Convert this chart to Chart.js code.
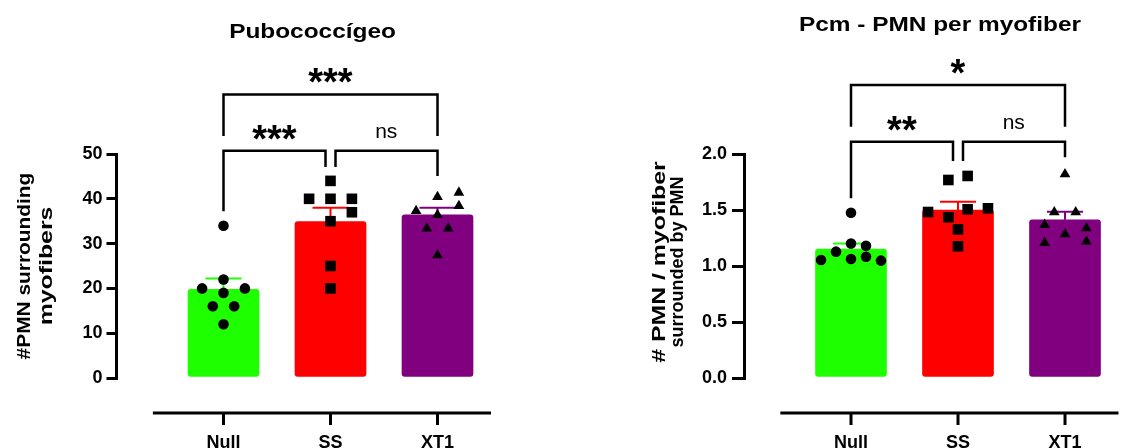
<!DOCTYPE html>
<html><head><meta charset="utf-8">
<script src="https://cdn.jsdelivr.net/npm/chart.js@4.4.0/dist/chart.umd.min.js"></script>
<style>
html,body{margin:0;padding:0;background:#fff;width:1126px;height:448px;overflow:hidden;}
canvas{position:absolute;left:0;top:0;}
</style></head><body>
<canvas id="c1" width="1126" height="448"></canvas>
<canvas id="c2" width="1126" height="448"></canvas>
<script>
// ---------- data ----------
const categories = ['Null', 'SS', 'XT1'];

// Left panel: Pubococcígeo, #PMN surrounding myofibers
const pmnMean = [19.8, 34.9, 36.4];
const pmnSem = [2.4, 3.1, 1.6];
const pmnNull = [34, 22, 20, 20, 19, 16, 16, 12];
const pmnSS = [44, 40, 40, 40, 37, 35, 25, 20];
const pmnXT1 = [40.4, 41.4, 37.3, 38.4, 36.4, 33.4, 33.4, 27.4];
const pmnNullJitter = [0, 0, -0.2, 0.2, 0, -0.1, 0.1, 0];
const pmnSSJitter = [0, -0.2, 0, 0.2, 0.2, 0, 0, 0];
const pmnXT1Jitter = [0, 0.2, -0.2, 0.2, 0, -0.1, 0.1, 0];
const pmnTicks = [0, 10, 20, 30, 40, 50];

// Right panel: Pcm - PMN per myofiber
const ratioMean = [1.152, 1.50, 1.413];
const ratioSem = [0.05, 0.074, 0.072];
const ratioNull = [1.476, 1.20, 1.18, 1.128, 1.054, 1.063, 1.083, 1.048];
const ratioSS = [1.768, 1.804, 1.482, 1.506, 1.515, 1.435, 1.327, 1.176];
const ratioXT1 = [1.82, 1.481, 1.481, 1.368, 1.338, 1.284, 1.207, 1.219];
const ratioNullJitter = [0, 0, 0.14, -0.14, -0.28, 0, 0.14, 0.28];
const ratioSSJitter = [-0.09, 0.09, -0.28, 0.09, 0.28, -0.09, 0, 0];
const ratioXT1Jitter = [0, -0.1, 0.1, -0.19, 0.2, 0, -0.19, 0.2];
const ratioTicks = [0, 0.5, 1.0, 1.5, 2.0];

const barColors = ['#1EFF00', '#FF0000', '#800080'];
const F = "'Liberation Sans', Arial, Helvetica, sans-serif";

// ---------- helpers ----------
function inkCenteredText(ctx, text, cx, cy, font, sx) {
  ctx.save();
  ctx.font = font;
  const m = ctx.measureText(text);
  ctx.translate(cx, cy);
  ctx.scale(sx || 1, 1);
  ctx.textAlign = 'left';
  ctx.textBaseline = 'alphabetic';
  const x = -(m.actualBoundingBoxRight - m.actualBoundingBoxLeft) / 2;
  const y = (m.actualBoundingBoxAscent - m.actualBoundingBoxDescent) / 2;
  ctx.fillText(text, x, y);
  ctx.restore();
}
function baselineText(ctx, text, cx, by, font, sx, rot) {
  ctx.save();
  ctx.font = font;
  ctx.translate(cx, by);
  if (rot) ctx.rotate(rot);
  ctx.scale(sx || 1, 1);
  ctx.textAlign = 'center';
  ctx.textBaseline = 'alphabetic';
  ctx.fillText(text, 0, 0);
  ctx.restore();
}

const decorPlugin = {
  id: 'decor',
  afterDatasetDraw(chart, args, opts) {
    if (args.index !== 0) return;
    const ctx = chart.ctx, xs = chart.scales.x, ys = chart.scales.y;
    ctx.save();
    ctx.lineWidth = 2;
    opts.mean.forEach((m, i) => {
      const x = xs.getPixelForValue(i + 1);
      const y0 = ys.getPixelForValue(m);
      const y1 = ys.getPixelForValue(m + opts.sem[i]);
      ctx.strokeStyle = barColors[i];
      ctx.beginPath();
      ctx.moveTo(x, y0); ctx.lineTo(x, y1);
      ctx.moveTo(x - 18, y1); ctx.lineTo(x + 18, y1);
      ctx.stroke();
    });
    ctx.restore();
  },
  afterDraw(chart, args, opts) {
    const ctx = chart.ctx, xs = chart.scales.x, ys = chart.scales.y, ca = chart.chartArea;
    ctx.save();
    ctx.fillStyle = '#000';
    ctx.strokeStyle = '#000';
    // offset x axis
    const axY = ca.bottom + 35;
    ctx.lineWidth = 3;
    ctx.beginPath();
    ctx.moveTo(xs.getPixelForValue(0.34), axY);
    ctx.lineTo(xs.getPixelForValue(3.5), axY);
    categories.forEach((c, i) => {
      const x = xs.getPixelForValue(i + 1);
      ctx.moveTo(x, axY); ctx.lineTo(x, axY + 12);
    });
    ctx.stroke();
    // brackets
    ctx.lineWidth = 2.5;
    ctx.lineCap = 'butt';
    opts.brackets.forEach(b => {
      const xa = xs.getPixelForValue(b.a + 1) + b.aShift;
      const xb = xs.getPixelForValue(b.b + 1) + b.bShift;
      const yl = ys.getPixelForValue(b.level);
      ctx.beginPath();
      ctx.moveTo(xa, ys.getPixelForValue(b.aDrop));
      ctx.lineTo(xa, yl);
      ctx.lineTo(xb, yl);
      ctx.lineTo(xb, ys.getPixelForValue(b.bDrop));
      ctx.stroke();
      const mx = (xa + xb) / 2;
      if (b.label === 'ns') {
        inkCenteredText(ctx, 'ns', mx, yl - 18.5, '21px ' + F, 1);
      } else {
        inkCenteredText(ctx, b.label, mx, yl - 18.5, 'bold 38px ' + F, 1);
      }
    });
    // title
    baselineText(ctx, opts.title, xs.getPixelForValue(2) - 18, opts.titleBaseline, 'bold 20.5px ' + F, 1.19);
    // y-axis title
    opts.yTitle.forEach((line, k) => {
      baselineText(ctx, line, opts.yTitleX[k], opts.yTitleCenter, 'bold 18px ' + F, opts.yTitleScale[k], -Math.PI / 2);
    });
    ctx.restore();
  }
};

function buildChart(id, cfg) {
  const scatter = (vals, jit, i, style, r) => ({
    type: 'scatter',
    data: vals.map((v, j) => ({ x: i + 1 + jit[j], y: v })),
    pointStyle: style, pointRadius: r, backgroundColor: '#000', borderWidth: 0,
    order: 0, clip: false
  });
  return new Chart(document.getElementById(id), {
    type: 'bar',
    data: {
      datasets: [
        {
          type: 'bar',
          data: cfg.mean.map((m, i) => ({ x: i + 1, y: m })),
          backgroundColor: barColors, barThickness: 71, borderRadius: 3,
          borderSkipped: false, borderWidth: 0, order: 1
        },
        scatter(cfg.pts[0], cfg.jit[0], 0, 'circle', 5.3),
        scatter(cfg.pts[1], cfg.jit[1], 1, 'rect', 7.5),
        scatter(cfg.pts[2], cfg.jit[2], 2, 'triangle', 6.2)
      ]
    },
    options: {
      responsive: false, animation: false, devicePixelRatio: 1,
      layout: { padding: { left: 0, top: 154, right: cfg.padRight, bottom: 0 } },
      plugins: {
        legend: { display: false }, tooltip: { enabled: false },
        decor: {
          mean: cfg.mean, sem: cfg.sem, brackets: cfg.brackets,
          title: cfg.title, titleBaseline: cfg.titleBaseline,
          yTitle: cfg.yTitle, yTitleX: cfg.yTitleX, yTitleCenter: cfg.yTitleCenter,
          yTitleScale: cfg.yTitleScale
        }
      },
      scales: {
        x: {
          type: 'linear', min: 0, max: 3.5, offset: false,
          afterBuildTicks: s => { s.ticks = categories.map((c, i) => ({ value: i + 1 })); },
          ticks: {
            callback: v => categories[v - 1] || '', autoSkip: false, maxRotation: 0,
            font: { family: F, size: 18, weight: 'bold' }, color: '#000', padding: 0
          },
          grid: { display: true, drawOnChartArea: false, drawTicks: true, tickLength: 54, color: 'rgba(0,0,0,0)' },
          border: { display: false },
          afterFit: s => { s.height = 70; }
        },
        y: {
          type: 'linear', min: 0, max: cfg.yMax,
          afterBuildTicks: s => { s.ticks = cfg.yTicks.map(v => ({ value: v })); },
          ticks: {
            callback: cfg.tickFmt, font: { family: F, size: 18, weight: 'bold' },
            color: '#000', padding: cfg.tickPad
          },
          grid: { display: true, drawOnChartArea: false, drawTicks: true, tickLength: cfg.tickLen, color: '#000', lineWidth: 3 },
          border: { display: true, color: '#000', width: 3 },
          afterFit: s => { s.width = cfg.axisX; }
        }
      }
    },
    plugins: [decorPlugin]
  });
}

buildChart('c1', {
  mean: pmnMean, sem: pmnSem,
  pts: [pmnNull, pmnSS, pmnXT1], jit: [pmnNullJitter, pmnSSJitter, pmnXT1Jitter],
  yMax: 50, yTicks: pmnTicks, tickFmt: v => String(v), tickPad: 4, tickLen: 10,
  axisX: 116.5, padRight: 1126 - 491,
  title: 'Pubococcígeo', titleBaseline: 37.5,
  yTitle: ['#PMN surrounding', 'myofibers'], yTitleX: [30, 52], yTitleCenter: 266,
  yTitleScale: [1.16, 1.38],
  brackets: [
    { a: 0, b: 2, aShift: 0, bShift: 0, level: 63.3, aDrop: 54.0, bDrop: 54.0, label: '***' },
    { a: 0, b: 1, aShift: 0, bShift: -5, level: 50.7, aDrop: 37.2, bDrop: 47.1, label: '***' },
    { a: 1, b: 2, aShift: 5, bShift: 0, level: 50.7, aDrop: 47.1, bDrop: 45.1, label: 'ns' }
  ]
});

buildChart('c2', {
  mean: ratioMean, sem: ratioSem,
  pts: [ratioNull, ratioSS, ratioXT1], jit: [ratioNullJitter, ratioSSJitter, ratioXT1Jitter],
  yMax: 2.0, yTicks: ratioTicks, tickFmt: v => Number(v).toFixed(1), tickPad: 5, tickLen: 12,
  axisX: 744, padRight: 1126 - (744 + 374.5),
  title: 'Pcm - PMN per myofiber', titleBaseline: 30.7,
  yTitle: ['# PMN / myofiber', 'surrounded by PMN'], yTitleX: [664.5, 682.5], yTitleCenter: 262,
  yTitleScale: [1.38, 1.0],
  brackets: [
    { a: 0, b: 2, aShift: 0, bShift: 0, level: 2.616, aDrop: 2.244, bDrop: 2.244, label: '*' },
    { a: 0, b: 1, aShift: 0, bShift: -5, level: 2.11, aDrop: 1.604, bDrop: 1.9375, label: '**' },
    { a: 1, b: 2, aShift: 5, bShift: 0, level: 2.11, aDrop: 1.9375, bDrop: 1.97, label: 'ns' }
  ]
});
</script>
</body></html>
